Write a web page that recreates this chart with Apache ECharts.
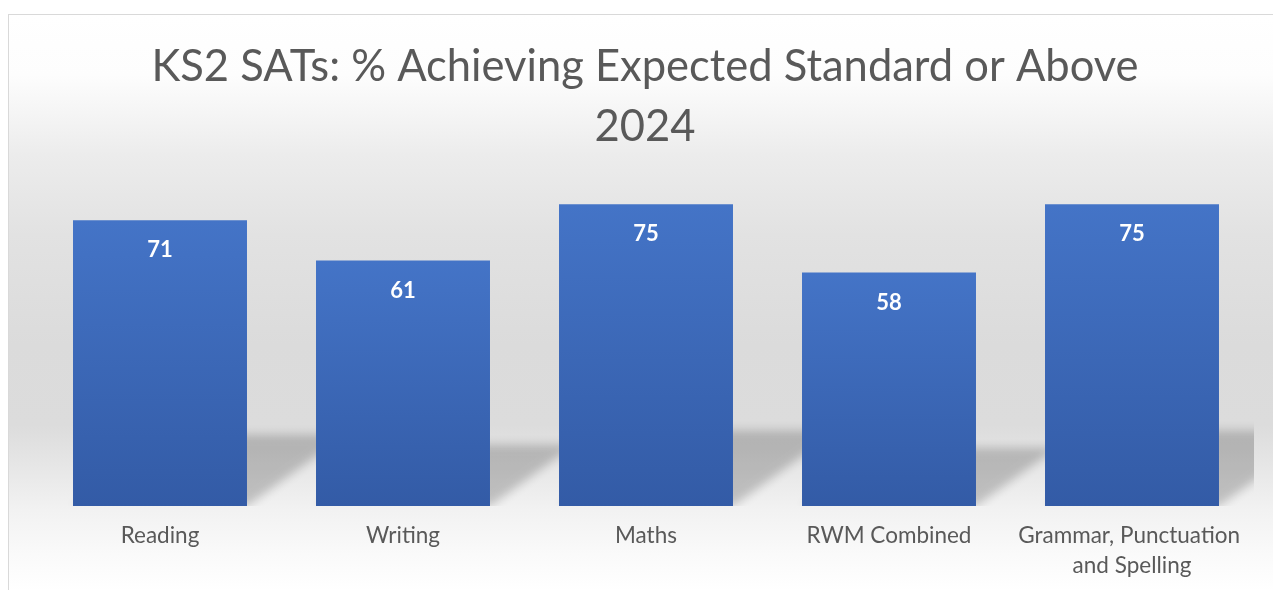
<!DOCTYPE html>
<html>
<head>
<meta charset="utf-8">
<script src="https://cdn.jsdelivr.net/npm/echarts@6/dist/echarts.min.js"></script>
<style>
  html, body { margin: 0; padding: 0; background: #fff; }
  .frame {
    position: absolute; left: 8px; top: 14px; width: 1270px; height: 590px;
    border-left: 1px solid #d9d9d9; border-top: 1px solid #d9d9d9;
    background: linear-gradient(to bottom, #ffffff 0px, #fdfdfd 60px, #ececec 140px, #e2e2e2 220px, #dbdbdb 330px, #dcdcdc 410px, #e6e6e6 450px, #f2f2f2 495px, #fafafa 540px, #ffffff 576px);
  }
  #chart { position: absolute; left: 0; top: 0; width: 1273px; height: 590px; }
</style>
</head>
<body>
<div class="frame"></div>
<div id="chart"></div>
<script>
const categories = ['Reading', 'Writing', 'Maths', 'RWM Combined', 'Grammar, Punctuation and Spelling'];
const percentages = [71, 61, 75, 58, 75];

const barRatio = 0.716;
const chart = echarts.init(document.getElementById('chart'));

// perspective shadow cast behind each bar (up and to the right);
// the shape is drawn off to the left so only its blurred shadow shows
const shift = 3000;
const shadowItem = (params, api) => {
  const top = api.coord([api.value(0), api.value(1)]);
  const base = api.coord([api.value(0), 0]);
  const bw = api.size([1, 0])[0] * barRatio;
  const h = (base[1] - top[1]) * 0.25;
  const dx = h / 0.72;
  const l = base[0] - bw / 2 - shift, r = base[0] + bw / 2 - shift, y0 = base[1];
  return {
    type: 'polygon',
    shape: { points: [[l, y0], [r, y0], [r + dx, y0 - h], [l + dx, y0 - h]] },
    style: {
      fill: '#000', shadowBlur: 10, shadowOffsetX: shift, shadowOffsetY: 0,
      shadowColor: 'rgba(0,0,0,0.2)'
    }
  };
};

chart.setOption({
  backgroundColor: 'transparent',
  title: {
    text: 'KS2 SATs: % Achieving Expected Standard or Above\n2024',
    left: 645,
    top: 37,
    padding: 0,
    textAlign: 'center',
    textStyle: {
      fontFamily: 'Lato', fontSize: 43.5, fontWeight: 'normal', color: '#595959', lineHeight: 60
    }
  },
  grid: { left: 38.5, right: 19.5, top: 184, bottom: 84 },
  xAxis: {
    type: 'category',
    data: categories,
    axisLine: { show: false },
    axisTick: { show: false },
    axisLabel: {
      margin: 15, fontFamily: 'Lato', fontSize: 22.5, color: '#595959', lineHeight: 30,
      width: 236, overflow: 'break', interval: 0
    }
  },
  yAxis: {
    type: 'value', min: 0, max: 80,
    axisLabel: { show: false }, splitLine: { show: false },
    axisLine: { show: false }, axisTick: { show: false }
  },
  series: [
    {
      type: 'custom',
      renderItem: shadowItem,
      clip: true,
      silent: true,
      z: 1,
      data: percentages.map((v, i) => [i, v])
    },
    {
      type: 'bar',
      data: percentages,
      barWidth: (barRatio * 100) + '%',
      z: 2,
      itemStyle: {
        color: new echarts.graphic.LinearGradient(0, 0, 0, 1, [
          { offset: 0, color: '#4474c7' },
          { offset: 1, color: '#335ba6' }
        ])
      },
      label: {
        show: true, position: 'insideTop', distance: 19,
        fontFamily: 'Lato', fontSize: 22, fontWeight: 'bold', color: '#ffffff'
      }
    }
  ]
});
</script>
</body>
</html>
